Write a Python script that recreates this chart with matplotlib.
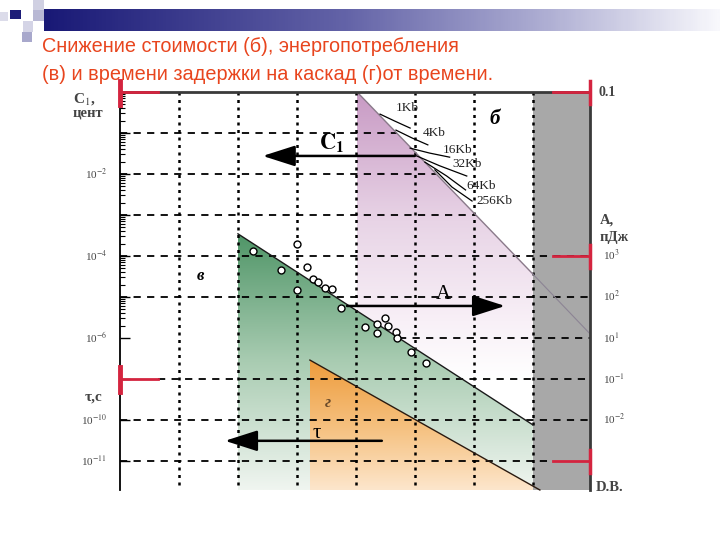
#
# Cost, energy and delay per cascade vs. time (scanned diagram redrawn)
#
import matplotlib.pyplot as plt
import numpy as np
from matplotlib.patches import Polygon, Rectangle
from matplotlib.colors import LinearSegmentedColormap

plt.rcParams['font.family'] = ['Liberation Serif', 'DejaVu Serif']
plt.rcParams['mathtext.fontset'] = 'stix'

# all values in grid cells: x = column from the left axis, y = row from the top line
x_max = 7.97
y_max = 9.71
band_x = 7.0   # grey band starts here

# boundary lines of the three shaded areas
cost_x = [4.02, 7.0, 7.97]      # (б)
cost_y = [0.0, 4.44, 5.90]
energy_x = [2.0, 7.0]           # (в)
energy_y = [3.46, 8.12]
delay_x = [3.22, 7.12]          # (г)
delay_y = [6.54, 9.71]

# measured energy points
pts_x = [2.25, 2.73, 3.00, 3.00, 3.17, 3.27, 3.36, 3.47, 3.59, 3.75,
         4.15, 4.36, 4.36, 4.49, 4.54, 4.68, 4.69, 4.93, 5.19]
pts_y = [3.88, 4.34, 3.71, 4.83, 4.27, 4.56, 4.63, 4.78, 4.80, 5.27,
         5.73, 5.66, 5.88, 5.51, 5.71, 5.85, 6.00, 6.34, 6.61]

# memory chip curves
kb_names = ['1Kb', '4Kb', '16Kb', '32Kb', '64Kb', '256Kb']
kb_x = [[4.41, 4.66, 4.92], [4.68, 4.95, 5.22], [4.92, 5.25, 5.59],
        [5.03, 5.42, 5.88], [5.17, 5.54, 5.86], [5.34, 5.63, 5.97]]
kb_y = [[0.54, 0.71, 0.88], [0.93, 1.12, 1.29], [1.37, 1.49, 1.59],
        [1.56, 1.80, 2.05], [1.71, 2.05, 2.39], [1.90, 2.32, 2.66]]
kb_lx = [4.68, 5.14, 5.48, 5.63, 5.87, 6.04]
kb_ly = [0.39, 1.00, 1.41, 1.76, 2.29, 2.66]

# axis labels
left_rows = [2, 4, 6, 8, 9]
left_labels = ['10$^{-2}$', '10$^{-4}$', '10$^{-6}$', '10$^{-10}$', '10$^{-11}$']
right_rows = [3.98, 5, 6, 7, 8]
right_labels = ['10$^{3}$', '10$^{2}$', '10$^{1}$', '10$^{-1}$', '10$^{-2}$']

red = '#d4243f'
title_color = '#e8451e'
axis_text = '#444444'

fig = plt.figure(figsize=(7.2, 5.4), dpi=100)

# ---- slide header ----
hdr = fig.add_axes([0, 0, 1, 1], zorder=0)
bar_cmap = LinearSegmentedColormap.from_list(
    'bar', [(0, '#191976'), (0.45, '#6464a8'), (0.75, '#b0b0d4'), (1, '#f8f8fc')])
hdr.imshow(np.linspace(0, 1, 300).reshape(1, -1), cmap=bar_cmap,
           extent=[44, 720, 31, 9], aspect='auto')
squares = [(0, 12, 8, 9, '#dcdcea'), (10, 10, 11, 9, '#1c1c78'),
           (33, 0, 11, 10, '#d0d0e2'), (33, 10, 11, 11, '#b8b8d4'),
           (23, 21, 10, 11, '#d4d4e6'), (22, 32, 10, 10, '#a8a8cc')]
for sx, sy, sw, sh, sc in squares:
    hdr.add_patch(Rectangle((sx, sy), sw, sh, color=sc, lw=0))
hdr.set_xlim(0, 720)
hdr.set_ylim(540, 0)
hdr.axis('off')
title_font = ['Liberation Sans', 'DejaVu Sans']
fig.text(42 / 720, 1 - 47 / 540, 'Снижение стоимости (б), энергопотребления',
         color=title_color, fontsize=14.3, family=title_font, va='center', ha='left')
fig.text(42 / 720, 1 - 74 / 540, '(в) и времени задержки на каскад (г)от времени.',
         color=title_color, fontsize=14.3, family=title_font, va='center', ha='left')

# ---- diagram ----
ax = fig.add_axes([120 / 720, 50 / 540, 470 / 720, 398 / 540], zorder=1)
ax.patch.set_visible(False)


def grad_fill(xs, ys, colors, y_top, y_bot, z):
    poly = Polygon(np.column_stack([xs, ys]), closed=True, fc='none', ec='none')
    ax.add_patch(poly)
    cmap = LinearSegmentedColormap.from_list('g', colors)
    im = ax.imshow(np.linspace(0, 1, 256).reshape(-1, 1), cmap=cmap,
                   extent=[min(xs), max(xs), y_bot, y_top], aspect='auto',
                   origin='upper', zorder=z)
    im.set_clip_path(poly)


grad_fill([cost_x[0], cost_x[1], cost_x[1], cost_x[0]],
          [cost_y[0], cost_y[1], y_max, y_max],
          [(0, '#c89ac4'), (0.45, '#e8d4e6'), (0.8, '#f8f0f7'), (1, '#ffffff')], 0, 7.0, 1)
grad_fill([energy_x[0], energy_x[1], energy_x[1], energy_x[0]],
          [energy_y[0], energy_y[1], y_max, y_max],
          [(0, '#4f9567'), (0.5, '#a9ccb2'), (1, '#f0f5f0')], energy_y[0], y_max, 2)
grad_fill([delay_x[0], delay_x[1], delay_x[0]],
          [delay_y[0], delay_y[1], delay_y[1]],
          [(0, '#ee9c3c'), (0.55, '#f6c384'), (1, '#fde6cc')], delay_y[0], y_max, 3)

ax.add_patch(Rectangle((band_x, 0), x_max - band_x, y_max, color='#a8a8a8', lw=0, zorder=3.5))

# grid
for c in range(1, 8):
    ax.plot([c, c], [0, y_max], color='black', lw=1.8, ls=(0, (1.2, 1.8)), zorder=4)
for r in range(1, 10):
    x0, x1 = 0, x_max
    if r <= 3:
        x1 = np.interp(r, cost_y, cost_x)
    if r == 6:
        x0 = np.interp(r, energy_y, energy_x)
    if r == 7:
        x0 = 0.64
    if r == 9:
        x1 = 7.34
    ax.plot([x0, x1], [r, r], color='black', lw=1.3, ls=(0, (4, 3.5)), zorder=4)

# boundary lines
ax.plot(cost_x[:2], cost_y[:2], color='#8a7a8a', lw=1, zorder=5)
ax.plot(cost_x[1:], cost_y[1:], color='#8c8494', lw=0.8, zorder=5)
ax.plot(energy_x, energy_y, color='#1a1a1a', lw=1, zorder=5)
ax.plot(delay_x, delay_y, color='#2a1a10', lw=1, zorder=5, clip_on=False)

# memory curves
for xs, ys in zip(kb_x, kb_y):
    ax.plot(xs, ys, color='black', lw=0.9, zorder=5)
for name, lx, ly in zip(kb_names, kb_lx, kb_ly):
    ax.text(lx, ly, name, fontsize=9.5, color='#222222', ha='left', va='center', zorder=6)

# points
ax.plot(pts_x, pts_y, 'o', ms=5, mfc='white', mec='black', mew=1, zorder=6)

# arrows
arrow = dict(arrowstyle='-|>,head_length=1.0,head_width=0.32', color='black',
             lw=1.8, shrinkA=0, shrinkB=0, mutation_scale=20)
ax.annotate('', xy=(2.42, 1.56), xytext=(5.0, 1.56), arrowprops=arrow, zorder=6)
ax.annotate('', xy=(6.53, 5.22), xytext=(3.85, 5.22), arrowprops=arrow, zorder=6)
ax.annotate('', xy=(1.78, 8.51), xytext=(4.44, 8.51), arrowprops=arrow, zorder=6)
ax.text(3.59, 1.24, r'$\mathbf{C}_{\mathbf{1}}$', fontsize=16, ha='center', va='center', zorder=6)
ax.text(5.49, 4.95, 'A', fontsize=15, ha='center', va='center', zorder=6)
ax.text(3.34, 8.32, 'τ', fontsize=15, ha='center', va='center', zorder=6)

# area letters
ax.text(6.36, 0.66, 'б', fontsize=15, weight='bold', style='italic', ha='center', va='center', zorder=6)
ax.text(1.36, 4.49, 'в', fontsize=12, weight='bold', style='italic', ha='center', va='center', zorder=6)
ax.text(3.53, 7.59, 'г', fontsize=12, weight='bold', style='italic', color='#6a4a2a',
        ha='center', va='center', zorder=6)

# frame
ax.plot([0, x_max], [0, 0], color='#3a3a3a', lw=2, zorder=5, clip_on=False)
ax.plot([x_max, x_max], [0, y_max], color='#3a3a3a', lw=2, zorder=5, clip_on=False)
for s in ['top', 'right', 'bottom']:
    ax.spines[s].set_visible(False)
ax.spines['left'].set_linewidth(1.3)
ax.set_xticks([])
ax.set_yticks(range(1, 10))
ax.set_yticks([r + 1 - np.log10(m) for r in range(6) for m in range(2, 10)], minor=True)
ax.tick_params(axis='y', which='major', direction='in', length=7, width=1, labelleft=False)
ax.tick_params(axis='y', which='minor', direction='in', length=3.5, width=0.8)

# red markers
for r in [0, 7]:
    ax.plot([0, 0.64], [r, r], color=red, lw=2, zorder=7, clip_on=False)
    ax.plot([0, 0], [r - 0.28, r + 0.32], color=red, lw=3.5, zorder=7, clip_on=False)
for r in [0, 4, 9]:
    ax.plot([7.34, x_max], [r, r], color=red, lw=2, zorder=7, clip_on=False)
    ax.plot([x_max, x_max], [r - 0.27, r + 0.3], color=red, lw=2.5, zorder=7, clip_on=False)

# axis texts
lab = dict(fontsize=8, color=axis_text, va='center', clip_on=False)
for r, t in zip(left_rows, left_labels):
    ax.text(-0.22, r, t, ha='right', **lab)
for r, t in zip(right_rows, right_labels):
    ax.text(8.19, r, t, ha='left', **lab)
name = dict(weight='bold', color=axis_text, ha='left', va='center')
ax.text(-0.80, 0.18, 'C$_1$,', fontsize=11, **name)
ax.text(-0.80, 0.52, 'цент', fontsize=10.5, **name)
ax.text(-0.60, 7.45, 'τ,с', fontsize=11, **name)
ax.text(8.12, 0.0, '0.1', fontsize=10, **name)
ax.text(8.13, 3.12, 'A,', fontsize=10.5, **name)
ax.text(8.13, 3.55, 'пДж', fontsize=10.5, **name)
ax.text(8.07, 9.65, 'D.B.', fontsize=10.5, **name)

ax.set_xlim(0, x_max)
ax.set_ylim(y_max, 0)

plt.savefig('out.png', dpi=100)
